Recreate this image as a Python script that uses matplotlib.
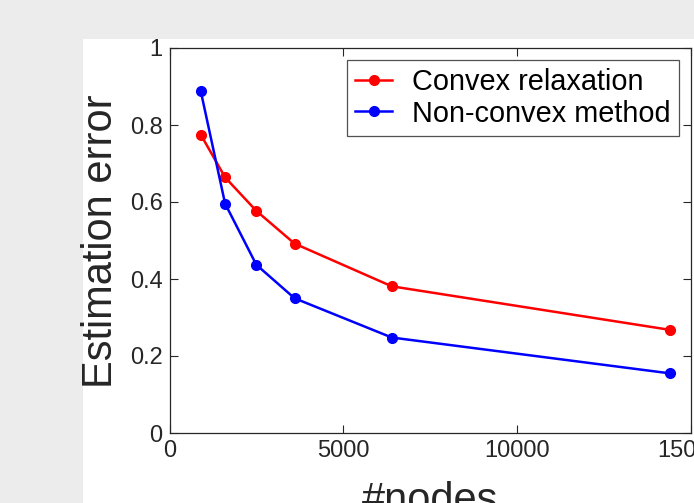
import matplotlib
matplotlib.use("Agg")
import matplotlib.pyplot as plt
from matplotlib.patches import Rectangle

# Donnees
nodes = [900, 1600, 2500, 3600, 6400, 14400]
convex_err = [0.775, 0.664, 0.577, 0.492, 0.381, 0.268]
nonconvex_err = [0.888, 0.596, 0.437, 0.350, 0.248, 0.155]
labels = ["Convex relaxation", "Non-convex method"]
x_ticks = [0, 5000, 10000, 15000]
y_ticks = [0, 0.2, 0.4, 0.6, 0.8, 1]

W, H = 694, 503
plt.rcParams['font.family'] = ['Liberation Sans', 'DejaVu Sans']
fig = plt.figure(figsize=(W / 100, H / 100), dpi=100, facecolor='#ececec')

# Zone blanche (figure MATLAB rognee)
fig.patches.append(Rectangle((83 / W, 0), 1 - 83 / W, 1 - 39 / H,
                             transform=fig.transFigure, facecolor='white',
                             edgecolor='none', zorder=-1))

ax = fig.add_axes([169.5 / W, 1 - 433 / H, (690.5 - 169.5) / W, (433 - 48) / H])
ax.plot(nodes, convex_err, '-o', color='red', lw=1.8, ms=7, label=labels[0])
ax.plot(nodes, nonconvex_err, '-o', color='blue', lw=1.8, ms=7, label=labels[1])

ax.set_xlim(0, 15000)
ax.set_ylim(0, 1)
ax.set_xticks(x_ticks)
ax.set_yticks(y_ticks)
ax.set_xticklabels([str(t) for t in x_ticks])
ax.set_yticklabels(['0', '0.2', '0.4', '0.6', '0.8', '1'])
ax.tick_params(direction='in', top=True, right=True, length=6, width=0.8,
               labelsize=17, colors='#262626', pad=5)
for s in ax.spines.values():
    s.set_color('#262626')
    s.set_linewidth(0.9)

ax.set_xlabel('#nodes', fontsize=30, color='#262626', labelpad=14)
fig.text(101 / W, 1 - 241 / H, 'Estimation error', rotation=90, fontsize=30,
         color='#262626', ha='center', va='center')

leg = ax.legend(loc='upper right', bbox_to_anchor=(679 / W, 1 - 60 / H),
                bbox_transform=fig.transFigure, borderaxespad=0, fontsize=20.8,
                frameon=True, fancybox=False, handlelength=1.28, handletextpad=0.69,
                labelspacing=0.12, borderpad=0.28)
leg.get_frame().set_edgecolor('#262626')
leg.get_frame().set_linewidth(0.9)

fig.savefig('out.png', dpi=100, facecolor=fig.get_facecolor())
